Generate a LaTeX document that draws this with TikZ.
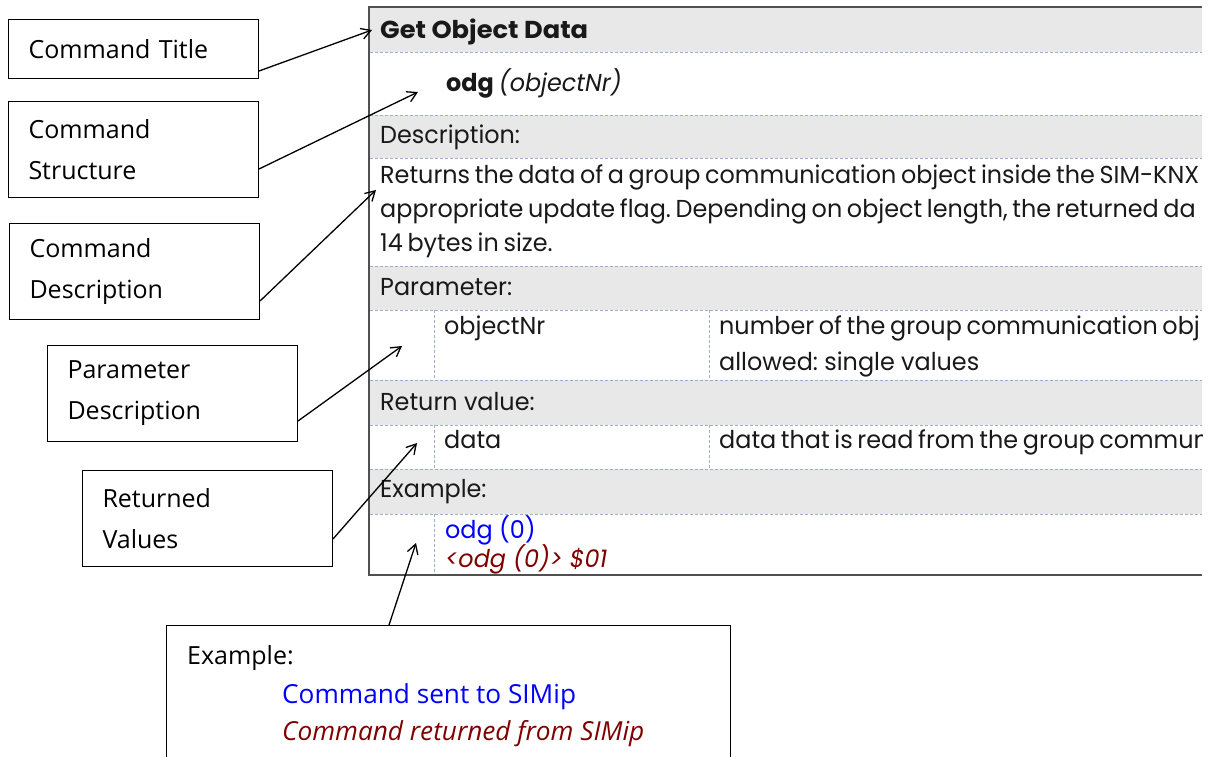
\documentclass[tikz,border=0pt]{standalone}
\usepackage{fontspec}
\setmainfont{Open Sans}
\newfontfamily\tblfont[FakeStretch=0.975]{Poppins}
\newfontfamily\tblbold[FakeStretch=1.05]{Poppins Bold}
\usetikzlibrary{arrows.meta}
\frenchspacing

\definecolor{rowgrey}{HTML}{E8E8E8}
\definecolor{gridblue}{HTML}{9CB0CC}
\definecolor{framegrey}{HTML}{505050}
\definecolor{sentblue}{HTML}{0000FF}
\definecolor{retred}{HTML}{800000}

% narrower interword spaces for the long table lines
\newcommand{\tightwords}{\spaceskip=0.19em\relax}

\tikzset{
  lblbox/.style={draw=black, line width=1pt, fill=white, anchor=north west,
    align=left, inner xsep=20pt, inner ysep=0pt, text width=210pt,
    minimum height=96pt, font=\fontsize{25}{41}\selectfont},
  lbltext/.style={anchor=base west, inner sep=0pt, font=\fontsize{25}{41}\selectfont},
  tbltext/.style={anchor=base west, inner sep=0pt, font=\tblfont\fontsize{24.5}{34}\selectfont, text=black!90},
  gridline/.style={draw=gridblue, line width=0.8pt, dash pattern=on 3pt off 2pt},
  callout/.style={draw=black, line width=1.3pt, -{Straight Barb[angle=60:11pt, line width=1.3pt]}},
}

\begin{document}
\begin{tikzpicture}[x=1pt, y=-1pt]
\useasboundingbox (0,0) rectangle (1213,756);

% ---------- command table ----------
\begin{scope}
  \clip (369,0) rectangle (1202,756);
  % grey header rows
  \fill[rowgrey] (370,8) rectangle (1202,52);
  \fill[rowgrey] (370,115) rectangle (1202,158);
  \fill[rowgrey] (370,266) rectangle (1202,310);
  \fill[rowgrey] (370,380) rectangle (1202,425);
  \fill[rowgrey] (370,469) rectangle (1202,514);
  % dashed row separators
  \foreach \yy in {52,115,158,266,310,380,425,469,514}
    \draw[gridline] (370,\yy) -- (1202,\yy);
  % dashed column separators
  \draw[gridline] (434,310) -- (434,380);
  \draw[gridline] (709,310) -- (709,380);
  \draw[gridline] (434,425) -- (434,469);
  \draw[gridline] (709,425) -- (709,469);
  \draw[gridline] (434,514) -- (434,575);

  % texts
  \node[tbltext, font=\tblbold\fontsize{24.5}{34}\selectfont] (title) at (380,38) {Get Object Data};
  \node[tbltext] (syntax) at (446,91) {\bfseries odg \mdseries\itshape (objectNr)};
  \node[tbltext] (deschead) at (380,143) {Description:};
  \node[tbltext] (desc1) at (380,183) {\tightwords Returns the data of a group communication object inside the SIM-KNX};
  \node[tbltext] (desc2) at (380,217) {\tightwords appropriate update flag. Depending on object length, the returned da};
  \node[tbltext] (desc3) at (380,251) {\tightwords 14 bytes in size.};
  \node[tbltext] (parhead) at (380,295) {Parameter:};
  \node[tbltext] (parname) at (444,334) {objectNr};
  \node[tbltext] (pardesc1) at (719,334) {\tightwords number of the group communication obj};
  \node[tbltext] (pardesc2) at (719,370) {allowed: single values};
  \node[tbltext] (rethead) at (380,410) {Return value:};
  \node[tbltext] (retname) at (444,448) {data};
  \node[tbltext] (retdesc) at (719,448) {\tightwords data that is read from the group commun};
  \node[tbltext] (exhead) at (380,497) {Example:};
  \node[tbltext, text=sentblue] (exsent) at (445,538) {odg (0)};
  \node[tbltext, text=retred] (exret) at (445,567) {\itshape <odg (0)> \$01};
\end{scope}
% table frame
\draw[framegrey, line width=1.8pt] (1202,7) -- (369,7) -- (369,575) -- (1202,575);

% ---------- label boxes ----------
\node[lblbox, minimum height=59pt] (lTitle) at (8,19) {Command Title};
\node[lblbox] (lStruct) at (8,101) {Command\\Structure};
\node[lblbox] (lDesc) at (9,223) {Command\\Description};
\node[lblbox] (lParam) at (47,345) {Parameter\\Description};
\node[lblbox] (lRet) at (82,470) {Returned\\Values};

\node[draw=black, line width=1pt, fill=white, anchor=north west, inner sep=0pt,
      minimum width=564pt, minimum height=150pt] (lExample) at (166,625) {};
\node[lbltext] (lExHead) at (187,664) {Example:};
\node[lbltext, font=\fontsize{26.2}{41}\selectfont, text=sentblue] (lExSent) at (282,703) {Command sent to SIMip};
\node[lbltext, font=\fontsize{26.2}{41}\selectfont, text=retred] (lExRet) at (282,740) {\itshape Command returned from SIMip};

% ---------- arrow targets ----------
\coordinate (tTitle) at (372,30);
\coordinate (tStruct) at (418,92);
\coordinate (tDesc) at (376,190);
\coordinate (tParam) at (402,346);
\coordinate (tRet) at (417,443);
\coordinate (tExample) at (416,543);

% ---------- callout arrows ----------
\draw[callout] ([yshift=8pt]lTitle.south east) -- (tTitle);
\draw[callout] ([yshift=29pt]lStruct.south east) -- (tStruct);
\draw[callout] ([yshift=19pt]lDesc.south east) -- (tDesc);
\draw[callout] ([yshift=21pt]lParam.south east) -- (tParam);
\draw[callout] ([yshift=28pt]lRet.south east) -- (tRet);
\draw[callout] ([xshift=223pt]lExample.north west) -- (tExample);
\end{tikzpicture}
\end{document}
